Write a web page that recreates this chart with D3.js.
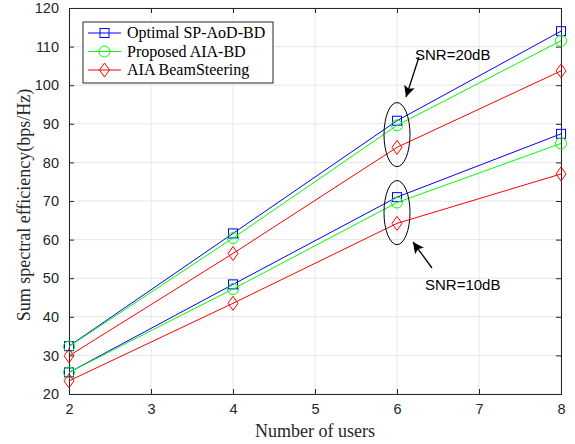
<!DOCTYPE html>
<html>
<head>
<meta charset="utf-8">
<script src="https://cdn.jsdelivr.net/npm/d3@7"></script>
<style>
  body { margin: 0; background: #fff; }
  svg { display: block; }
  .tick-label { font-family: "Liberation Sans", Arial, sans-serif; font-size: 14.5px; fill: #262626; }
  .axis-title { font-family: "Liberation Serif", "Times New Roman", serif; font-size: 18px; fill: #262626; }
  .legend-text { font-family: "Liberation Serif", "Times New Roman", serif; font-size: 16px; fill: #000; }
  .note { font-family: "Liberation Sans", Arial, sans-serif; font-size: 15px; fill: #000; }
</style>
</head>
<body>
<div id="chart"></div>
<script>
// number of users (x) and tick values
var users = [2, 4, 6, 8];
var xTicks = [2, 3, 4, 5, 6, 7, 8];
var yTicks = [20, 30, 40, 50, 60, 70, 80, 90, 100, 110, 120];

// SNR = 20dB
var optimal20 = [32.4, 61.6, 90.8, 114.0];
var proposed20 = [32.3, 60.4, 89.6, 111.5];
var steering20 = [29.9, 56.4, 83.9, 103.7];
// SNR = 10dB
var optimal10 = [25.6, 48.4, 71.0, 87.4];
var proposed10 = [25.6, 47.2, 69.6, 84.9];
var steering10 = [23.4, 43.5, 64.2, 77.0];

var legendNames = ["Optimal SP-AoD-BD", "Proposed AIA-BD", "AIA BeamSteering"];
var colors = ["#0000ff", "#00ff00", "#ff0000"];
var markers = ["square", "circle", "diamond"];

var width = 575, height = 444;
var margin = {top: 8, right: 14, bottom: 50, left: 69};
var w = width - margin.left - margin.right,
    h = height - margin.top - margin.bottom;

var svg = d3.select("#chart").append("svg")
    .attr("width", width)
    .attr("height", height);

var g = svg.append("g")
    .attr("transform", "translate(" + margin.left + "," + margin.top + ")");

var x = d3.scaleLinear().domain([2, 8]).range([0, w]);
var y = d3.scaleLinear().domain([20, 120]).range([h, 0]);

// grid
g.selectAll(".gx").data(xTicks).enter().append("line")
    .attr("x1", d => x(d)).attr("x2", d => x(d))
    .attr("y1", 0).attr("y2", h)
    .attr("stroke", "#e6e6e6").attr("stroke-width", 1);
g.selectAll(".gy").data(yTicks).enter().append("line")
    .attr("y1", d => y(d)).attr("y2", d => y(d))
    .attr("x1", 0).attr("x2", w)
    .attr("stroke", "#e6e6e6").attr("stroke-width", 1);

// axes with inward ticks, matlab style box
var xAxis = d3.axisBottom(x).tickValues(xTicks).tickSize(-5).tickPadding(10).tickFormat(d3.format("d"));
var xAxisTop = d3.axisTop(x).tickValues(xTicks).tickSize(-5).tickFormat("");
var yAxis = d3.axisLeft(y).tickValues(yTicks).tickSize(-5).tickPadding(10).tickFormat(d3.format("d"));
var yAxisRight = d3.axisRight(y).tickValues(yTicks).tickSize(-5).tickFormat("");

function styleAxis(sel) {
    sel.selectAll("path").attr("stroke", "#262626");
    sel.selectAll("line").attr("stroke", "#262626");
    sel.selectAll("text").attr("class", "tick-label").attr("font-family", null).attr("font-size", null);
}

g.append("g").attr("transform", "translate(0," + h + ")").call(xAxis).call(styleAxis);
g.append("g").call(xAxisTop).call(styleAxis);
g.append("g").call(yAxis).call(styleAxis);
g.append("g").attr("transform", "translate(" + w + ",0)").call(yAxisRight).call(styleAxis);

// series
var series = [
    {vals: optimal20, k: 0}, {vals: proposed20, k: 1}, {vals: steering20, k: 2},
    {vals: optimal10, k: 0}, {vals: proposed10, k: 1}, {vals: steering10, k: 2}
];

var line = d3.line().x(d => x(d[0])).y(d => y(d[1]));

function drawMarker(sel, kind, color) {
    if (kind == "square") {
        sel.append("rect").attr("x", -4.5).attr("y", -4.5).attr("width", 9).attr("height", 9)
            .attr("fill", "none").attr("stroke", color);
    } else if (kind == "circle") {
        sel.append("circle").attr("r", 5.5).attr("fill", "none").attr("stroke", color);
    } else {
        sel.append("path").attr("d", "M0,-7L5,0L0,7L-5,0Z").attr("fill", "none").attr("stroke", color);
    }
}

series.forEach(function(s) {
    var pts = users.map((u, i) => [u, s.vals[i]]);
    g.append("path").datum(pts)
        .attr("d", line)
        .attr("fill", "none")
        .attr("stroke", colors[s.k])
        .attr("stroke-width", 1);
    g.selectAll(null).data(pts).enter().append("g")
        .attr("transform", d => "translate(" + x(d[0]) + "," + y(d[1]) + ")")
        .each(function() { drawMarker(d3.select(this), markers[s.k], colors[s.k]); });
});

// annotations: ellipses around x=6 and arrows
var notes = [
    {label: "SNR=20dB", cy: 87.2, tx: 415, ty: 60, from: [419, 57], to: [406, 97]},
    {label: "SNR=10dB", cy: 67.0, tx: 425, ty: 290, from: [432, 268], to: [413, 242]}
];

svg.append("defs").append("marker")
    .attr("id", "arrow")
    .attr("viewBox", "0 0 10 10")
    .attr("refX", 10).attr("refY", 5)
    .attr("markerWidth", 14).attr("markerHeight", 11)
    .attr("markerUnits", "userSpaceOnUse")
    .attr("orient", "auto")
    .append("path").attr("d", "M0,0L10,5L0,10L2,5Z").attr("fill", "#000");

notes.forEach(function(n) {
    g.append("ellipse")
        .attr("cx", x(6)).attr("cy", y(n.cy))
        .attr("rx", 13).attr("ry", 32)
        .attr("fill", "none").attr("stroke", "#000").attr("stroke-width", 1);
    svg.append("line")
        .attr("x1", n.from[0]).attr("y1", n.from[1])
        .attr("x2", n.to[0]).attr("y2", n.to[1])
        .attr("stroke", "#000").attr("stroke-width", 1.3)
        .attr("marker-end", "url(#arrow)");
    svg.append("text").attr("class", "note")
        .attr("x", n.tx).attr("y", n.ty)
        .text(n.label);
});

// axis titles
svg.append("text").attr("class", "axis-title")
    .attr("x", margin.left + w / 2).attr("y", 437)
    .attr("text-anchor", "middle")
    .text("Number of users");
svg.append("text").attr("class", "axis-title")
    .attr("transform", "translate(30," + (margin.top + h / 2 + 4) + ") rotate(-90)")
    .attr("text-anchor", "middle")
    .text("Sum spectral efficiency(bps/Hz)");

// legend
var legend = svg.append("g").attr("transform", "translate(83,22)");
legend.append("rect").attr("width", 190).attr("height", 61)
    .attr("fill", "#fff").attr("stroke", "#262626").attr("stroke-width", 1);
legendNames.forEach(function(name, i) {
    var row = legend.append("g").attr("transform", "translate(0," + (11 + i * 18.5) + ")");
    row.append("line").attr("x1", 5).attr("x2", 38).attr("stroke", colors[i]);
    drawMarker(row.append("g").attr("transform", "translate(21.5,0)"), markers[i], colors[i]);
    row.append("text").attr("class", "legend-text").attr("x", 44).attr("y", 5).text(name);
});
</script>
</body>
</html>
